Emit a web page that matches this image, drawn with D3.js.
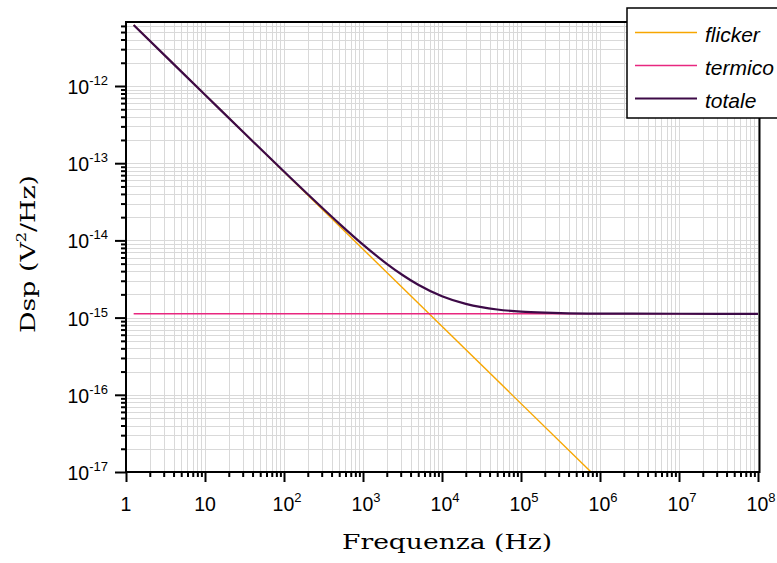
<!DOCTYPE html>
<html>
<head>
<meta charset="utf-8">
<script src="https://cdn.jsdelivr.net/npm/d3@7"></script>
<style>
  body { margin: 0; background: #fff; }
  svg { display: block; }
</style>
</head>
<body>
<svg width="777" height="563"></svg>
<script>
  // dati
  let flickerFreq = [1.25, 7.7e5]
  let flickerDsp = [6.16e-12, 1.0e-17]
  let termicoFreq = [1.25, 1e8]
  let termicoDsp = [1.12e-15, 1.12e-15]
  let totaleFreq = [1.25, 3.16, 10, 31.6, 100, 200, 316, 500, 1000, 2000, 3160, 5000,
    1e4, 2e4, 3.16e4, 5e4, 1e5, 2e5, 3.16e5, 1e6, 1e7, 1e8]
  let totaleDsp = [6.161e-12, 2.437e-12, 7.71e-13, 2.438e-13, 7.81e-14, 3.96e-14, 2.55e-14,
    1.652e-14, 8.82e-15, 4.97e-15, 3.56e-15, 2.66e-15, 1.89e-15, 1.505e-15, 1.364e-15,
    1.274e-15, 1.197e-15, 1.159e-15, 1.144e-15, 1.128e-15, 1.121e-15, 1.12e-15]
  let xTickExp = [0, 1, 2, 3, 4, 5, 6, 7, 8]
  let yTickExp = [-17, -16, -15, -14, -13, -12]
  let legendNames = ['flicker', 'termico', 'totale']
  let colors = ['#f7a600', '#e8277f', '#3d0a47']

  let plotLeft = 126, plotRight = 758, plotTop = 22, plotBottom = 472

  let svg = d3.select('svg')

  let x = d3.scaleLog().domain([1, 1e8]).range([plotLeft, plotRight])
  let y = d3.scaleLog().domain([1e-17, Math.pow(10, -11.171)]).range([plotBottom, plotTop])

  // posizioni dei tick minori per decade
  function minors(lo, hi) {
    let out = []
    for (let e = lo; e < hi; e++) {
      for (let k = 2; k <= 9; k++) out.push(k * Math.pow(10, e))
    }
    return out
  }
  let xMinor = minors(0, 8)
  let yMinor = minors(-17, -11).filter(v => v <= y.domain()[1])
  let xMajor = xTickExp.map(e => Math.pow(10, e))
  let yMajor = yTickExp.map(e => Math.pow(10, e))

  // griglia
  let grid = svg.append('g').attr('stroke', '#d9d9d9').attr('stroke-width', 1)
  grid.selectAll('.gx')
    .data(xMinor.concat(xMajor))
    .enter()
    .append('line')
    .attr('x1', d => Math.round(x(d)) + 0.5)
    .attr('x2', d => Math.round(x(d)) + 0.5)
    .attr('y1', plotTop)
    .attr('y2', plotBottom)
  grid.selectAll('.gy')
    .data(yMinor.concat(yMajor))
    .enter()
    .append('line')
    .attr('y1', d => Math.round(y(d)) + 0.5)
    .attr('y2', d => Math.round(y(d)) + 0.5)
    .attr('x1', plotLeft)
    .attr('x2', plotRight)

  // curve
  let series = [
    { f: flickerFreq, v: flickerDsp, w: 1.4 },
    { f: termicoFreq, v: termicoDsp, w: 1.6 },
    { f: totaleFreq, v: totaleDsp, w: 2.2 }
  ]
  let line = d3.line()
    .x(d => x(d[0]))
    .y(d => y(d[1]))
    .curve(d3.curveMonotoneX)

  svg.append('g')
    .selectAll('path')
    .data(series)
    .enter()
    .append('path')
    .attr('d', d => line(d.f.map((f, i) => [f, d.v[i]])))
    .attr('fill', 'none')
    .attr('stroke', (d, i) => colors[i])
    .attr('stroke-width', d => d.w)

  // assi
  let xAxisMinor = d3.axisBottom(x).tickValues(xMinor).tickSize(5).tickFormat('')
  let xAxisMajor = d3.axisBottom(x).tickValues(xMajor).tickSize(10).tickFormat('')
  let yAxisMinor = d3.axisLeft(y).tickValues(yMinor).tickSize(5).tickFormat('')
  let yAxisMajor = d3.axisLeft(y).tickValues(yMajor).tickSize(11).tickFormat('')

  let axes = [
    svg.append('g').attr('transform', `translate(0,${plotBottom})`).call(xAxisMinor),
    svg.append('g').attr('transform', `translate(0,${plotBottom})`).call(xAxisMajor),
    svg.append('g').attr('transform', `translate(${plotLeft},0)`).call(yAxisMinor),
    svg.append('g').attr('transform', `translate(${plotLeft},0)`).call(yAxisMajor)
  ]
  axes.forEach(g => {
    g.select('.domain').remove()
    g.selectAll('line').attr('stroke', '#000').attr('stroke-width', 2)
  })

  // cornice
  svg.append('rect')
    .attr('x', plotLeft)
    .attr('y', plotTop)
    .attr('width', plotRight - plotLeft + 1.5)
    .attr('height', plotBottom - plotTop)
    .attr('fill', 'none')
    .attr('stroke', '#000')
    .attr('stroke-width', 2)

  // etichette dei tick
  let tickFont = 'Liberation Sans, Arial, sans-serif'
  xTickExp.forEach(e => {
    let t = svg.append('text')
      .attr('x', x(Math.pow(10, e)) + (e > 1 ? 3 : 0))
      .attr('y', 511)
      .attr('text-anchor', 'middle')
      .attr('font-family', tickFont)
      .attr('font-size', 19.5)
    if (e === 0) t.text('1')
    else if (e === 1) t.text('10')
    else {
      t.append('tspan').text('10')
      t.append('tspan').attr('dy', -9).attr('font-size', 13).text(e)
    }
  })
  yTickExp.forEach(e => {
    let t = svg.append('text')
      .attr('x', 108)
      .attr('y', y(Math.pow(10, e)) + 8)
      .attr('text-anchor', 'end')
      .attr('font-family', tickFont)
      .attr('font-size', 19.5)
    t.append('tspan').text('10')
    t.append('tspan').attr('dy', -9).attr('font-size', 13).text(e)
  })

  // titoli degli assi
  let serif = 'DejaVu Serif, serif'
  svg.append('text')
    .attr('x', 342)
    .attr('y', 549)
    .attr('font-family', serif)
    .attr('font-size', 20)
    .attr('textLength', 210)
    .attr('lengthAdjust', 'spacingAndGlyphs')
    .text('Frequenza (Hz)')

  let yt = svg.append('text')
    .attr('transform', 'translate(35,333) rotate(-90)')
    .attr('font-family', serif)
    .attr('font-size', 20)
    .attr('textLength', 158)
    .attr('lengthAdjust', 'spacingAndGlyphs')
  yt.append('tspan').text('Dsp (V')
  yt.append('tspan').attr('dy', -9).attr('font-size', 12).text('2')
  yt.append('tspan').attr('dy', 9).text('/Hz)')

  // legenda
  let legend = svg.append('g')
  legend.append('rect')
    .attr('x', 627)
    .attr('y', 8)
    .attr('width', 170)
    .attr('height', 110)
    .attr('fill', '#fff')
    .attr('stroke', '#000')
    .attr('stroke-width', 1.5)
  legendNames.forEach((name, i) => {
    let ly = 32.5 + i * 33
    legend.append('line')
      .attr('x1', 635)
      .attr('x2', 697)
      .attr('y1', ly)
      .attr('y2', ly)
      .attr('stroke', colors[i])
      .attr('stroke-width', series[i].w * 0.9)
    legend.append('text')
      .attr('x', 705)
      .attr('y', ly + 9)
      .attr('font-family', tickFont)
      .attr('font-style', 'italic')
      .attr('font-size', 21)
      .text(name)
  })
</script>
</body>
</html>
